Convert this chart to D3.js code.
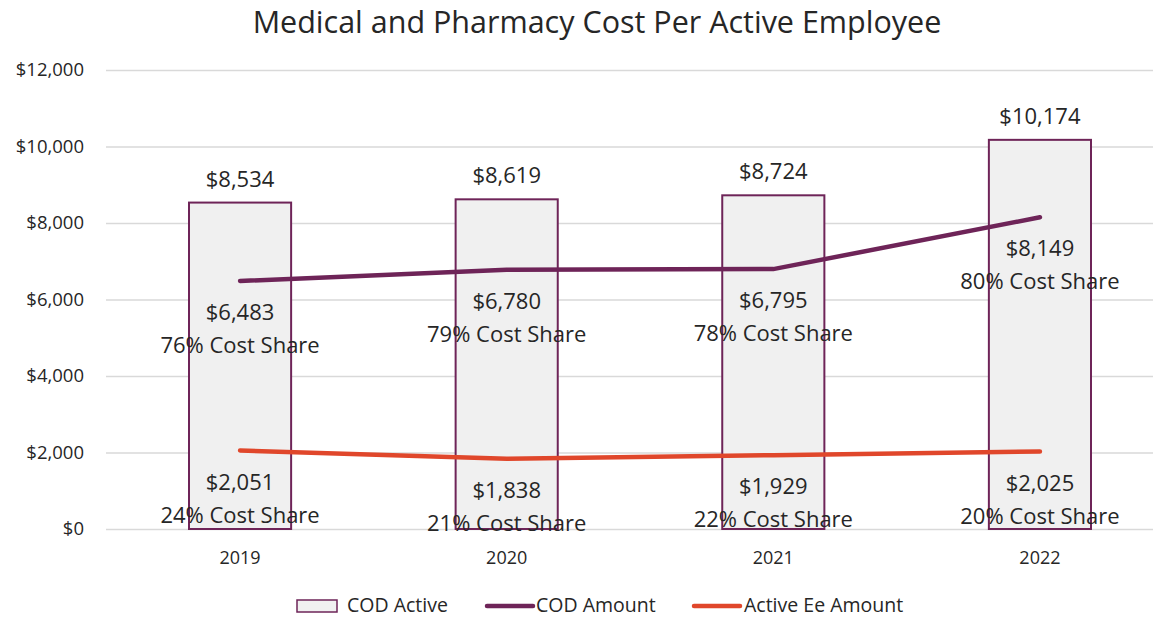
<!DOCTYPE html>
<html>
<head>
<meta charset="utf-8">
<script src="https://cdn.jsdelivr.net/npm/d3@7"></script>
<style>
  body { margin: 0; background: #fff; }
  text { font-family: "Open Sans", "Noto Sans", sans-serif; fill: #262626; }
</style>
</head>
<body>
<svg id="chart" width="1153" height="618"></svg>
<script>
// values
var years = ["2019", "2020", "2021", "2022"];
var codActive = [8534, 8619, 8724, 10174];
var codAmount = [6483, 6780, 6795, 8149];
var eeAmount = [2051, 1838, 1929, 2025];
var codShare = ["76%", "79%", "78%", "80%"];
var eeShare = ["24%", "21%", "22%", "20%"];
var yTicks = [0, 2000, 4000, 6000, 8000, 10000, 12000];

var purple = "#6e2458", orange = "#e0472b";
var svg = d3.select("#chart");

var x = d3.scaleBand().domain(years)
    .range([106.75, 1173.25]).paddingInner(0.617).paddingOuter(0.3085);
var y = d3.scaleLinear().domain([0, 12000]).range([529, 70]);
var fmt = d3.format("$,");

// title
svg.append("text").attr("x", 597).attr("y", 33)
    .attr("text-anchor", "middle").style("font-size", "30.5px")
    .text("Medical and Pharmacy Cost Per Active Employee");

// gridlines + y labels
var yAxis = d3.axisLeft(y).tickValues(yTicks).tickFormat(fmt)
    .tickSize(-1070).tickPadding(22);
svg.append("g").attr("transform", "translate(106,0)").call(yAxis)
    .call(function (g) {
        g.select(".domain").remove();
        g.selectAll("line").attr("stroke", "#d9d9d9").attr("stroke-width", 1.5);
        g.selectAll("text").style("font-size", "18.5px").attr("fill", "#333");
    });

// x labels
var xAxis = d3.axisBottom(x).tickSize(0).tickPadding(22);
svg.append("g").attr("transform", "translate(0,529)").call(xAxis)
    .call(function (g) {
        g.select(".domain").remove();
        g.selectAll("text").style("font-size", "18px").attr("fill", "#333");
    });

// bars
svg.append("g").selectAll("rect").data(codActive).join("rect")
    .attr("x", function (d, i) { return x(years[i]); })
    .attr("y", function (d) { return y(d); })
    .attr("width", x.bandwidth())
    .attr("height", function (d) { return y(0) - y(d); })
    .attr("fill", "#f0f0f0").attr("stroke", purple).attr("stroke-width", 2);

var cx = function (d, i) { return x(years[i]) + x.bandwidth() / 2; };

// lines
function drawLine(vals, color) {
    var line = d3.line()
        .x(function (d, i) { return cx(d, i); })
        .y(function (d) { return y(d); });
    svg.append("path").datum(vals).attr("d", line)
        .attr("fill", "none").attr("stroke", color)
        .attr("stroke-width", 4.5).attr("stroke-linecap", "round");
}
drawLine(codAmount, purple);
drawLine(eeAmount, orange);

// labels
svg.append("g").selectAll("text").data(codActive).join("text")
    .attr("x", cx).attr("y", function (d) { return y(d) - 16; })
    .attr("text-anchor", "middle").style("font-size", "22px")
    .text(fmt);

function pointLabels(vals, shares) {
    var g = svg.append("g");
    g.selectAll("text.v").data(vals).join("text").attr("class", "v")
        .attr("x", cx).attr("y", function (d) { return y(d) + 39; })
        .attr("text-anchor", "middle").style("font-size", "22px")
        .text(fmt);
    g.selectAll("text.s").data(vals).join("text").attr("class", "s")
        .attr("x", cx).attr("y", function (d) { return y(d) + 72; })
        .attr("text-anchor", "middle").style("font-size", "22px")
        .text(function (d, i) { return shares[i] + " Cost Share"; });
}
pointLabels(codAmount, codShare);
pointLabels(eeAmount, eeShare);

// legend
var lg = svg.append("g").style("font-size", "19.5px");
lg.append("rect").attr("x", 297).attr("y", 600).attr("width", 40).attr("height", 12)
    .attr("fill", "#f0f0f0").attr("stroke", purple).attr("stroke-width", 1.5);
lg.append("text").attr("x", 347).attr("y", 612).text("COD Active");
lg.append("line").attr("x1", 487).attr("x2", 533).attr("y1", 606).attr("y2", 606)
    .attr("stroke", purple).attr("stroke-width", 4.5).attr("stroke-linecap", "round");
lg.append("text").attr("x", 536).attr("y", 612).text("COD Amount");
lg.append("line").attr("x1", 694).attr("x2", 740).attr("y1", 606).attr("y2", 606)
    .attr("stroke", orange).attr("stroke-width", 4.5).attr("stroke-linecap", "round");
lg.append("text").attr("x", 744).attr("y", 612).text("Active Ee Amount");
</script>
</body>
</html>
